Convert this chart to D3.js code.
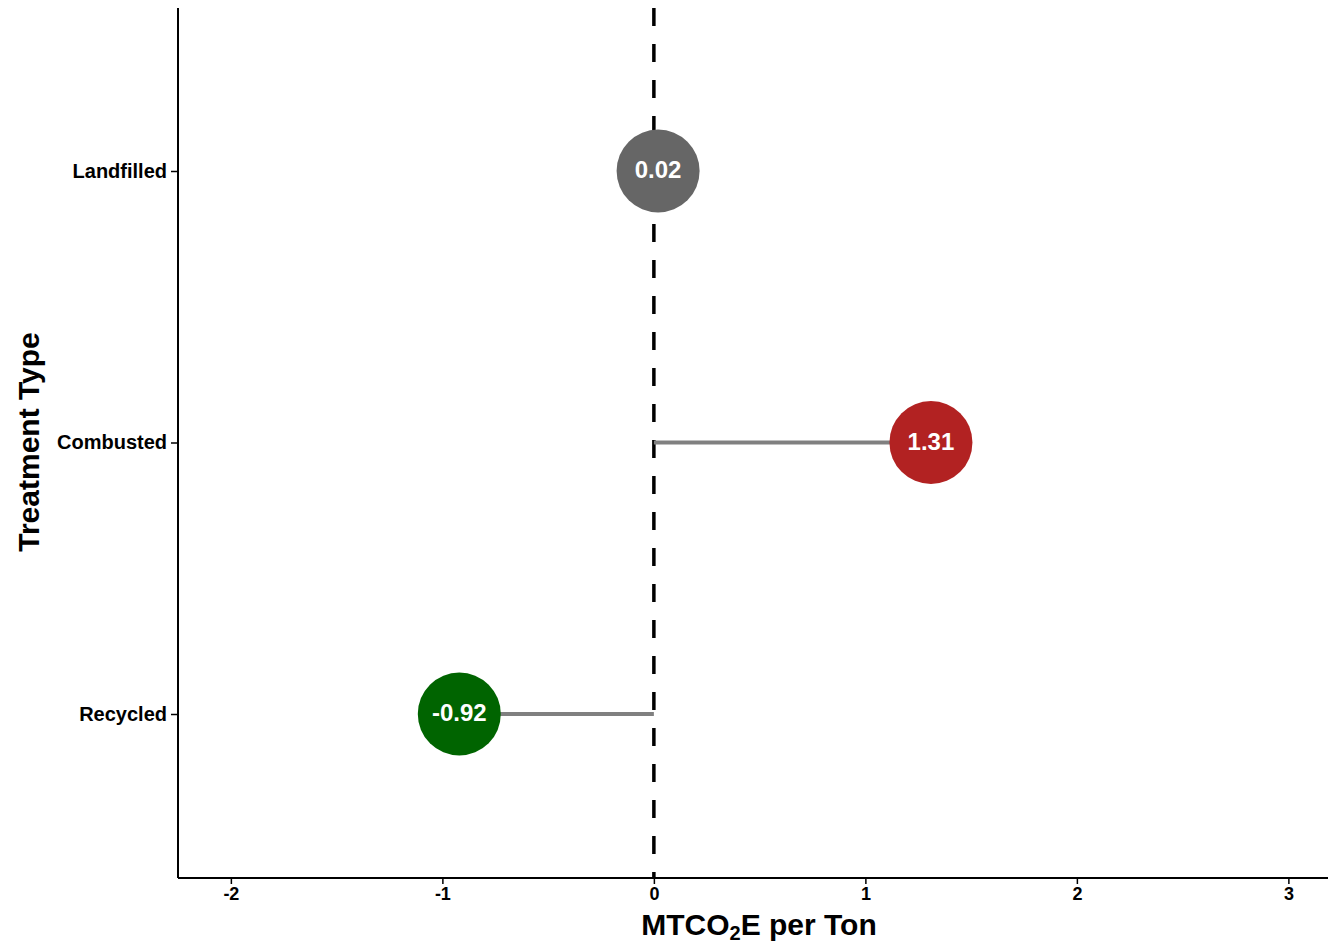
<!DOCTYPE html>
<html><head><meta charset="utf-8">
<script src="https://cdn.jsdelivr.net/npm/d3@7"></script>
<style>body{margin:0;background:#fff}svg{display:block}text{font-family:"Liberation Sans",Arial,sans-serif;font-weight:bold}</style>
</head><body>
<script>
const categories = ["Landfilled", "Combusted", "Recycled"];
const values = [0.02, 1.31, -0.92];
const colors = ["#666666", "#B22222", "#006400"];
const xTicks = [-2, -1, 0, 1, 2, 3];

const W = 1328, H = 944;
const svg = d3.select("body").append("svg").attr("width", W).attr("height", H);
const plotLeft = 178, plotTop = 8, plotBottom = 878;
// 0 at 654, 1 unit = 211.5px
const x = d3.scaleLinear().domain([-2.25, 3.18]).range([plotLeft, plotLeft + 5.43 * 211.5]);
const y = d3.scalePoint().domain(categories).range([171, 714]);

const g = svg.append("g");
g.append("line").attr("x1", x(0)).attr("x2", x(0)).attr("y1", plotTop).attr("y2", plotBottom)
  .attr("stroke", "#000").attr("stroke-width", 3.5).attr("stroke-dasharray", "18,18");

const data = categories.map((c, i) => ({c, v: values[i], col: colors[i]}));
g.selectAll(".seg").data(data).enter().append("line")
  .attr("x1", x(0)).attr("x2", d => x(d.v)).attr("y1", d => y(d.c)).attr("y2", d => y(d.c))
  .attr("stroke", "#808080").attr("stroke-width", 4);
g.selectAll(".dot").data(data).enter().append("circle")
  .attr("cx", d => x(d.v)).attr("cy", d => y(d.c)).attr("r", 41.5).attr("fill", d => d.col);
g.selectAll(".lab").data(data).enter().append("text")
  .attr("x", d => x(d.v)).attr("y", d => y(d.c)).attr("dy", "0.3em")
  .attr("text-anchor", "middle").attr("fill", "#fff").attr("font-size", 24)
  .text(d => d.v.toFixed(2));

const xAxis = svg.append("g").attr("transform", `translate(0,${plotBottom})`)
  .call(d3.axisBottom(x).tickValues(xTicks).tickSize(6).tickPadding(3).tickFormat(d => String(d)));
xAxis.select(".domain").attr("stroke-width", 2).attr("d", `M${plotLeft},0H${W}`);
xAxis.selectAll(".tick line").attr("stroke-width", 1.5);
xAxis.selectAll("text").attr("font-size", 18).attr("fill", "#000");
xAxis.attr("font-family", null);

const yAxis = svg.append("g").attr("transform", `translate(${plotLeft},0)`)
  .call(d3.axisLeft(y).tickSize(7).tickPadding(4));
yAxis.select(".domain").attr("stroke-width", 2).attr("d", `M0,${plotTop}V${plotBottom}`);
yAxis.selectAll(".tick line").attr("stroke-width", 1.5);
yAxis.selectAll("text").attr("font-size", 20).attr("fill", "#000");
yAxis.attr("font-family", null);

const xt = svg.append("text").attr("x", 759).attr("y", 935).attr("text-anchor", "middle").attr("font-size", 30).attr("fill", "#000");
xt.append("tspan").text("MTCO");
xt.append("tspan").attr("font-size", 20).attr("dy", 5).text("2");
xt.append("tspan").attr("dy", -5).text("E per Ton");

svg.append("text").attr("transform", "translate(39,442) rotate(-90)").attr("text-anchor", "middle")
  .attr("font-size", 30).attr("fill", "#000").text("Treatment Type");
</script>
</body></html>
